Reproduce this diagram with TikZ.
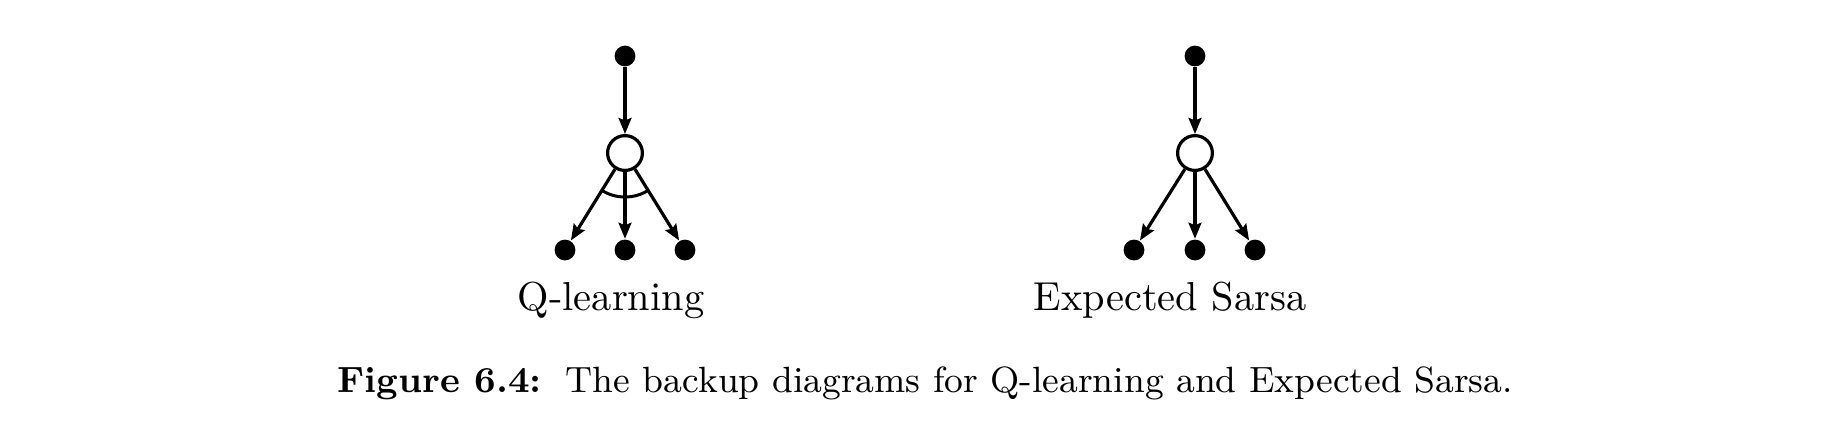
\documentclass[tikz,border=0pt]{standalone}
\usetikzlibrary{arrows.meta}
\begin{document}
\begin{tikzpicture}[x=0.25pt,y=-0.25pt,
  sdot/.style={circle,fill=black,inner sep=0pt,minimum size=5.2pt},
  odot/.style={circle,draw=black,line width=0.8pt,fill=white,inner sep=0pt,minimum size=8.7pt},
  conn/.style={line width=0.8pt,-{Stealth[length=4pt,width=3.2pt,inset=0.6pt]}},
  lab/.style={anchor=base,inner sep=0pt,font=\fontsize{10.1}{12}\selectfont},
  captext/.style={anchor=base west,inner sep=0pt,font=\fontsize{9.13}{11}\selectfont}]
\useasboundingbox (0,0) rectangle (1834,444);
% Q-learning
\node[sdot] (qt) at (625,56) {};
\node[odot] (qo) at (625,153) {};
\node[sdot] (qb1) at (565,250) {};
\node[sdot] (qb2) at (625,250) {};
\node[sdot] (qb3) at (685,250) {};
\draw[conn] (qt) -- (qo);
\draw[conn] (qo) -- (qb1);
\draw[conn] (qo) -- (qb2);
\draw[conn] (qo) -- (qb3);
\draw[line width=0.75pt] (qo.center) ++(121.7:44) arc[start angle=121.7,end angle=58.3,radius=44];
\node[lab] (ql) at (611,310) {Q-learning};
% Expected Sarsa
\node[sdot] (et) at (1195,56) {};
\node[odot] (eo) at (1195,153) {};
\node[sdot] (eb1) at (1134,250) {};
\node[sdot] (eb2) at (1195,250) {};
\node[sdot] (eb3) at (1255,250) {};
\draw[conn] (et) -- (eo);
\draw[conn] (eo) -- (eb1);
\draw[conn] (eo) -- (eb2);
\draw[conn] (eo) -- (eb3);
\node[lab] (el) at (1170,310) {Expected Sarsa};
% caption
\node[captext] (cpa) at (337,392) {\textbf{Figure 6.4:}};
\node[captext] (cpb) at (565,392) {The backup diagrams for Q-learning and Expected Sarsa.};
\end{tikzpicture}
\end{document}
